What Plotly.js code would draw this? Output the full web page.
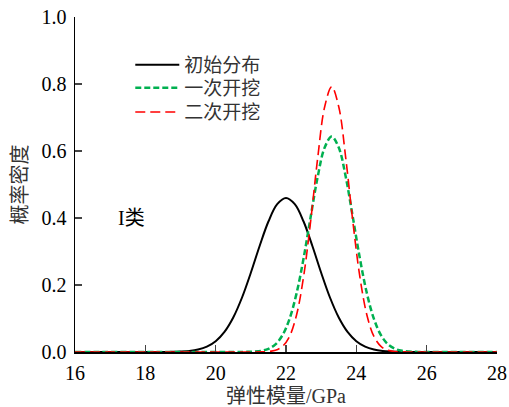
<!DOCTYPE html>
<html>
<head>
<meta charset="utf-8">
<script src="https://cdn.plot.ly/plotly-3.0.1.min.js"></script>
<style>html,body{margin:0;padding:0;background:#fff;}#chart{width:509px;height:407px;}</style>
</head>
<body>
<div id="chart"></div>
<script>
// Series names
const seriesNames = ["初始分布", "一次开挖", "二次开挖"];

// Initial distribution (black solid)
const xInit = [16, 18.5, 18.75, 19, 19.25, 19.5, 19.75, 20, 20.25, 20.5, 20.75, 21, 21.25, 21.5, 21.75, 22,
               22.25, 22.5, 22.75, 23, 23.25, 23.5, 23.75, 24, 24.25, 24.5, 24.75, 25, 25.25, 25.5, 28];
const yInit = [0, 0.0001, 0.0004, 0.0012, 0.0030, 0.0072, 0.0159, 0.0322, 0.0600, 0.1030, 0.1627, 0.2365, 0.3164, 0.3895, 0.4413, 0.46,
               0.4413, 0.3895, 0.3164, 0.2365, 0.1627, 0.1030, 0.0600, 0.0322, 0.0159, 0.0072, 0.0030, 0.0012, 0.0004, 0.0001, 0];

// First excavation (green dotted)
const xFirst = [16, 20.7, 20.9, 21.1, 21.3, 21.5, 21.7, 21.9, 22.1, 22.3, 22.5, 22.7, 22.9, 23.1, 23.3,
                23.5, 23.7, 23.9, 24.1, 24.3, 24.5, 24.7, 24.9, 25.1, 25.3, 25.5, 25.7, 25.9, 28];
const yFirst = [0, 0.0001, 0.0004, 0.0012, 0.0035, 0.0095, 0.0230, 0.0502, 0.0988, 0.1751, 0.2797, 0.4026, 0.5222, 0.6104, 0.643,
                0.6104, 0.5222, 0.4026, 0.2797, 0.1751, 0.0988, 0.0502, 0.0230, 0.0095, 0.0035, 0.0012, 0.0004, 0.0001, 0];

// Second excavation (red dashed)
const xSecond = [16, 21.1, 21.3, 21.5, 21.7, 21.9, 22.1, 22.3, 22.5, 22.7, 22.9, 23.1, 23.3,
                 23.5, 23.7, 23.9, 24.1, 24.3, 24.5, 24.7, 24.9, 25.1, 25.3, 25.5, 28];
const ySecond = [0, 0, 0.0003, 0.0013, 0.0051, 0.0167, 0.0465, 0.1106, 0.2247, 0.3899, 0.5780, 0.7320, 0.792,
                 0.7320, 0.5780, 0.3899, 0.2247, 0.1106, 0.0465, 0.0167, 0.0051, 0.0013, 0.0003, 0, 0];

// Axis ticks
const xTicks = [16, 18, 20, 22, 24, 26, 28];
const yTicks = [0, 0.2, 0.4, 0.6, 0.8, 1.0];

const serif = "Liberation Serif, Times New Roman, Noto Sans CJK SC, serif";

const traces = [
  {x: xInit, y: yInit, name: seriesNames[0], mode: "lines", legend: "legend",
   line: {color: "#000000", width: 2, shape: "spline", smoothing: 1}},
  {x: xFirst, y: yFirst, name: seriesNames[1], mode: "lines", legend: "legend2",
   line: {color: "#00b050", width: 2.5, dash: "6px,3px", shape: "spline", smoothing: 1}},
  {x: xSecond, y: ySecond, name: seriesNames[2], mode: "lines", legend: "legend3",
   line: {color: "#ff0000", width: 1.6, dash: "10px,5px", shape: "spline", smoothing: 1}}
];

function legendAt(y) {
  return {x: 0.131, y: y, xanchor: "left", yanchor: "middle", bgcolor: "rgba(0,0,0,0)",
          font: {family: serif, size: 19, color: "#333"}, itemwidth: 44};
}

const layout = {
  width: 509, height: 407,
  margin: {l: 75, r: 12, t: 17, b: 55},
  paper_bgcolor: "#fff", plot_bgcolor: "#fff",
  font: {family: serif, size: 20, color: "#000"},
  showlegend: true,
  legend: legendAt(0.857),
  legend2: legendAt(0.788),
  legend3: legendAt(0.716),
  xaxis: {
    range: [16, 28], tickvals: xTicks, ticks: "inside", ticklen: 7, tickwidth: 1.5,
    showline: true, linecolor: "#000", linewidth: 1.5, showgrid: false, zeroline: false,
    ticklabelstandoff: 2,
    tickfont: {family: serif, size: 20, color: "#000"},
    title: {text: "弹性模量/GPa", font: {family: serif, size: 20, color: "#333"}, standoff: 12}
  },
  yaxis: {
    range: [0, 1.0], tickvals: yTicks, tickformat: ".1f", ticks: "inside", ticklen: 7, tickwidth: 1.5,
    showline: true, linecolor: "#000", linewidth: 1.5, showgrid: false, zeroline: false,
    ticklabelstandoff: 3,
    tickfont: {family: serif, size: 20, color: "#000"},
    title: {text: "概率密度", font: {family: serif, size: 20, color: "#333"}, standoff: 8}
  },
  annotations: [
    {x: 17.6, y: 0.4, xref: "x", yref: "y", text: "I类", showarrow: false,
     font: {family: serif, size: 20, color: "#000"}}
  ]
};

Plotly.newPlot("chart", traces, layout, {displayModeBar: false, staticPlot: true});
</script>
</body>
</html>
